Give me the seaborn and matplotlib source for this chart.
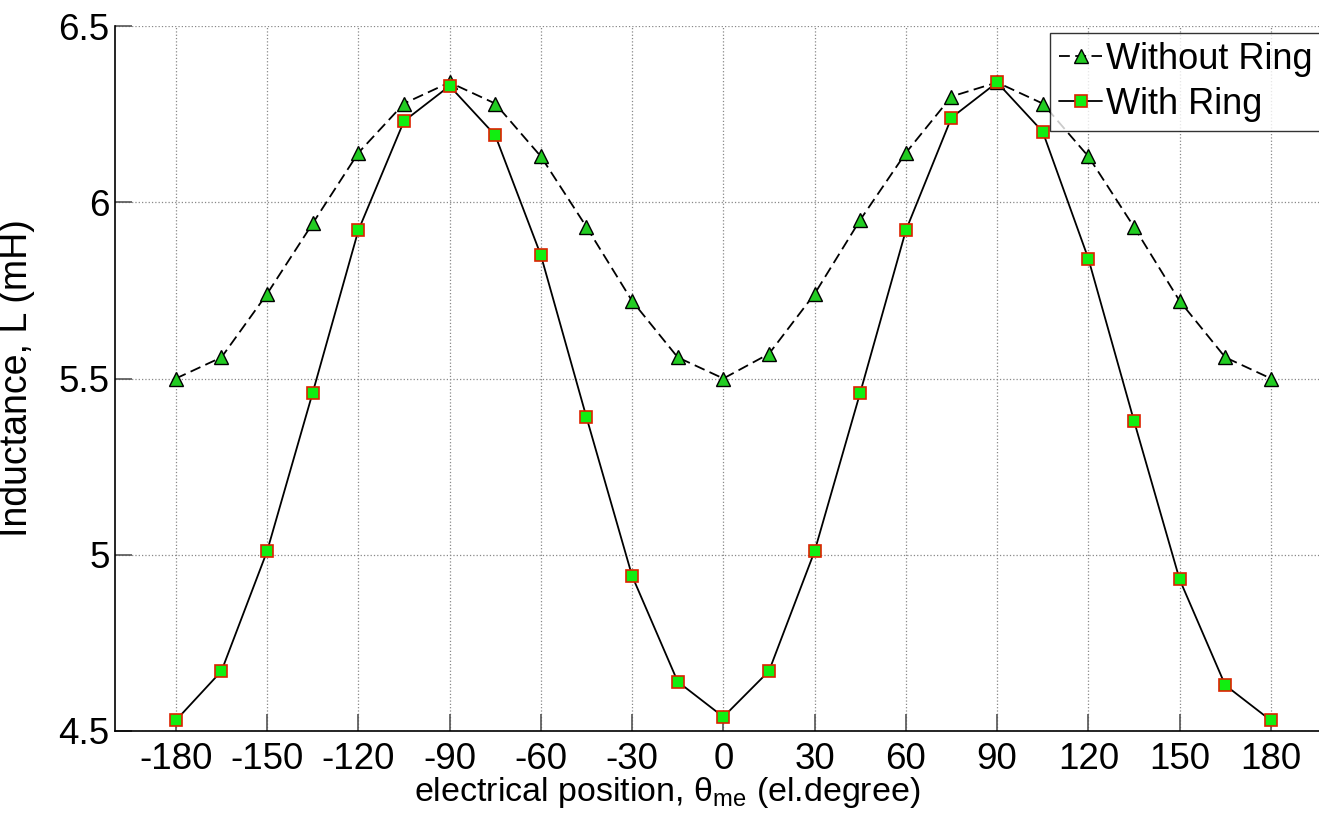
import pandas as pd
import matplotlib
matplotlib.use("Agg")
import matplotlib.pyplot as plt
import seaborn as sns
import numpy as np

# electrical position (el. degree)
theta = [-180, -165, -150, -135, -120, -105, -90, -75, -60, -45, -30, -15, 0,
         15, 30, 45, 60, 75, 90, 105, 120, 135, 150, 165, 180]

# inductance (mH)
L_without = [5.50, 5.56, 5.74, 5.94, 6.14, 6.28, 6.34, 6.28, 6.13, 5.93, 5.72, 5.56, 5.50,
             5.57, 5.74, 5.95, 6.14, 6.30, 6.34, 6.28, 6.13, 5.93, 5.72, 5.56, 5.50]
L_with = [4.53, 4.67, 5.01, 5.46, 5.92, 6.23, 6.33, 6.19, 5.85, 5.39, 4.94, 4.64, 4.54,
          4.67, 5.01, 5.46, 5.92, 6.24, 6.34, 6.20, 5.84, 5.38, 4.93, 4.63, 4.53]

xticks = list(range(-180, 181, 30))
yticks = [4.5, 5, 5.5, 6, 6.5]
ytick_labels = ['4.5', '5', '5.5', '6', '6.5']

sns.set_style("white")
plt.rcParams['font.family'] = ['Liberation Sans', 'DejaVu Sans']
plt.rcParams['mathtext.fontset'] = 'custom'
plt.rcParams['mathtext.rm'] = 'Liberation Sans'
plt.rcParams['mathtext.it'] = 'Liberation Sans'
plt.rcParams['axes.unicode_minus'] = False
plt.rcParams['text.color'] = 'black'
plt.rcParams['axes.labelcolor'] = 'black'
plt.rcParams['xtick.color'] = 'black'
plt.rcParams['ytick.color'] = 'black'

df = pd.DataFrame({'theta': theta, 'without': L_without, 'with': L_with})

fig = plt.figure(figsize=(13.19, 8.24), dpi=100)
ax = fig.add_axes([115/1319, 93/824, (1331.7-115)/1319, (731-26)/824])

sns.lineplot(data=df, x='theta', y='without', ax=ax, color='black', linestyle=(0, (6, 3)),
             linewidth=1.3, marker='^', markersize=10, markerfacecolor='#22cc22',
             markeredgecolor='black', markeredgewidth=1.0, label='Without Ring')
sns.lineplot(data=df, x='theta', y='with', ax=ax, color='black', linestyle='-',
             linewidth=1.3, marker='s', markersize=8, markerfacecolor='#11ee11',
             markeredgecolor='#dd2200', markeredgewidth=1.2, label='With Ring')

ax.set_xlim(-200, 200)
ax.set_ylim(4.5, 6.5)
ax.set_xticks(xticks)
ax.set_yticks(yticks)
ax.set_yticklabels(ytick_labels)
ax.tick_params(axis='both', labelsize=26.5, direction='in', length=12, width=1.2,
               color='#555555', labelcolor='black', bottom=True, left=True,
               top=False, right=False)
ax.tick_params(axis='y', pad=4)
ax.tick_params(axis='x', pad=8)
ax.grid(True, linestyle=':', color='#888888', linewidth=0.9)

for s in ['top', 'right']:
    ax.spines[s].set_visible(False)
for s in ['left', 'bottom']:
    ax.spines[s].set_color('black')
    ax.spines[s].set_linewidth(1.2)

ax.set_xlabel(r'electrical position, $\theta_{\mathrm{me}}$ (el.degree)', fontsize=24.5)
ax.xaxis.set_label_coords((667 - 115) / (1331.7 - 115), -0.062)
ax.set_ylabel('Inductance, L (mH)', fontsize=27)
ax.yaxis.set_label_coords(-(115 - 35) / (1331.7 - 115), 0.5)

leg = ax.legend(loc='upper left', bbox_to_anchor=(1050/1319, 1 - 33/824),
                bbox_transform=fig.transFigure, fontsize=26, frameon=True,
                fancybox=False, edgecolor='black', borderaxespad=0,
                handlelength=1.2, handletextpad=0.1, labelspacing=0.28,
                borderpad=0.25)
leg.get_frame().set_linewidth(1.0)

plt.savefig("out.png", dpi=100)
